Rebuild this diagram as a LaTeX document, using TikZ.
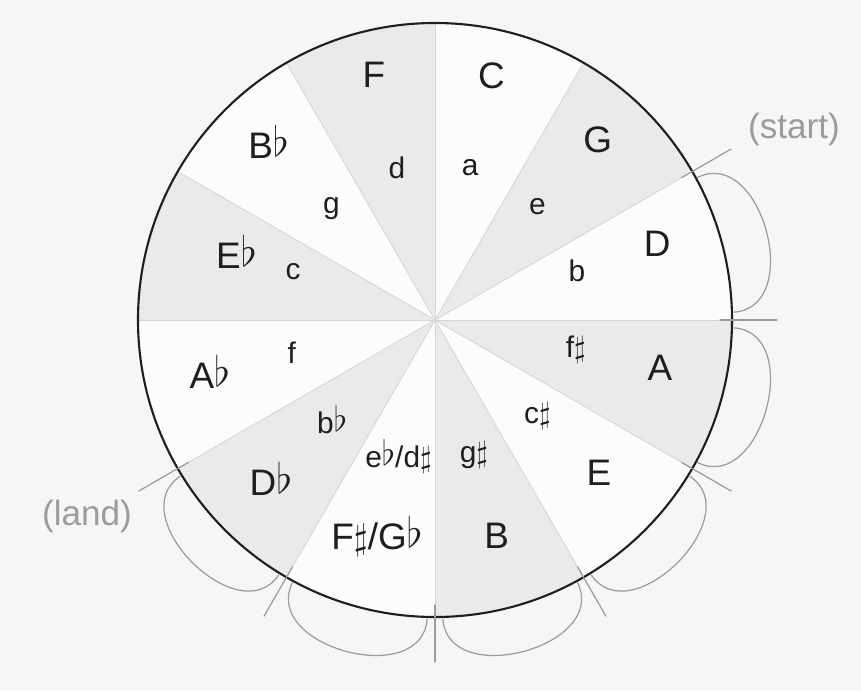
\documentclass[tikz,border=0pt]{standalone}
\usepackage{fontspec}
\setmainfont{Liberation Sans}
\usetikzlibrary{positioning}
\definecolor{WheelPaper}{HTML}{F6F6F6}
\definecolor{WheelWhite}{HTML}{FCFCFC}
\definecolor{WheelShade}{HTML}{EAEAEA}
\definecolor{WheelSpoke}{HTML}{D6D6D6}
\definecolor{WheelRim}{HTML}{1E1E1E}
\definecolor{WheelPencil}{HTML}{9C9C9C}
\newcommand{\flt}{\raisebox{0.1ex}{\scalebox{1.15}{$\flat$}}}
\newcommand{\shp}{$\sharp$}
\tikzset{
  wheelmajor/.style={font=\fontsize{21}{24}\selectfont,text=WheelRim,inner sep=1pt},
  wheelminor/.style={font=\fontsize{17}{20}\selectfont,text=WheelRim,inner sep=1pt},
  wheelspoke/.style={draw=WheelSpoke,line width=0.5pt},
  wheelrim/.style={draw=WheelRim,line width=1.2pt},
  pencil/.style={draw=WheelPencil,line width=0.7pt,line cap=round},
  pencilnote/.style={font=\fontsize{20}{22}\selectfont,text=WheelPencil}
}
\begin{document}
\begin{tikzpicture}[x=0.02cm,y=0.02cm]
  % paper
  \fill[WheelPaper] (-435,-371) rectangle (426,320);
  \useasboundingbox (-435,-371) rectangle (426,320);
  \coordinate (O) at (0,0);
  \fill[WheelWhite] (O) circle (297);
  % shaded sectors
  \foreach \a in {30,-30,-90,-150,150,90}
    \fill[WheelShade] (O) -- (\a:297) arc (\a:\a+30:297) -- cycle;
  % spokes
  \foreach \i in {0,...,11}
    \coordinate (b\i) at (30-30*\i:297);
  \foreach \i in {0,...,11}
    \draw[wheelspoke] (O) -- (b\i);
  \draw[wheelrim] (O) circle (297);
  % keys
  \foreach \i/\ang/\rmaj/\maj/\rmin/\mnr in {
      1/77/251/C/156/a,
      2/48/243/G/153/e,
      3/19/235/D/150/b,
      4/-12/230/A/144/f\shp,
      5/-43/224/E/140/c\shp,
      6/-74/224/B/141/g\shp,
      7/-105/224/{F\shp/G\flt}/141/{e\flt/d\shp},
      8/-136/228/D\flt/143/b\flt,
      9/-167/231/A\flt/147/f,
      10/161/210/E\flt/150/c,
      11/133/244/B\flt/152/g,
      12/104/253/F/157/d}{
    \node[wheelmajor] (key\i) at (\ang:\rmaj) {\maj};
    \node[wheelminor] (rel\i) at (\ang:\rmin) {\mnr};
  }
  % pencil path
  \foreach \a in {30,0,-30,-60,-90,-120,-150}
    \draw[pencil] (\a:285) -- (\a:342);
  \foreach \a in {30,0,-30,-60,-90,-120}
    \draw[pencil] (\a-1.5:299) .. controls (\a-2:370) and (\a-28:370) .. (\a-28.5:299);
  \node[pencilnote] (start) at (359,191) {(start)};
  \node[pencilnote] (land) at (-348,-196) {(land)};
\end{tikzpicture}
\end{document}
